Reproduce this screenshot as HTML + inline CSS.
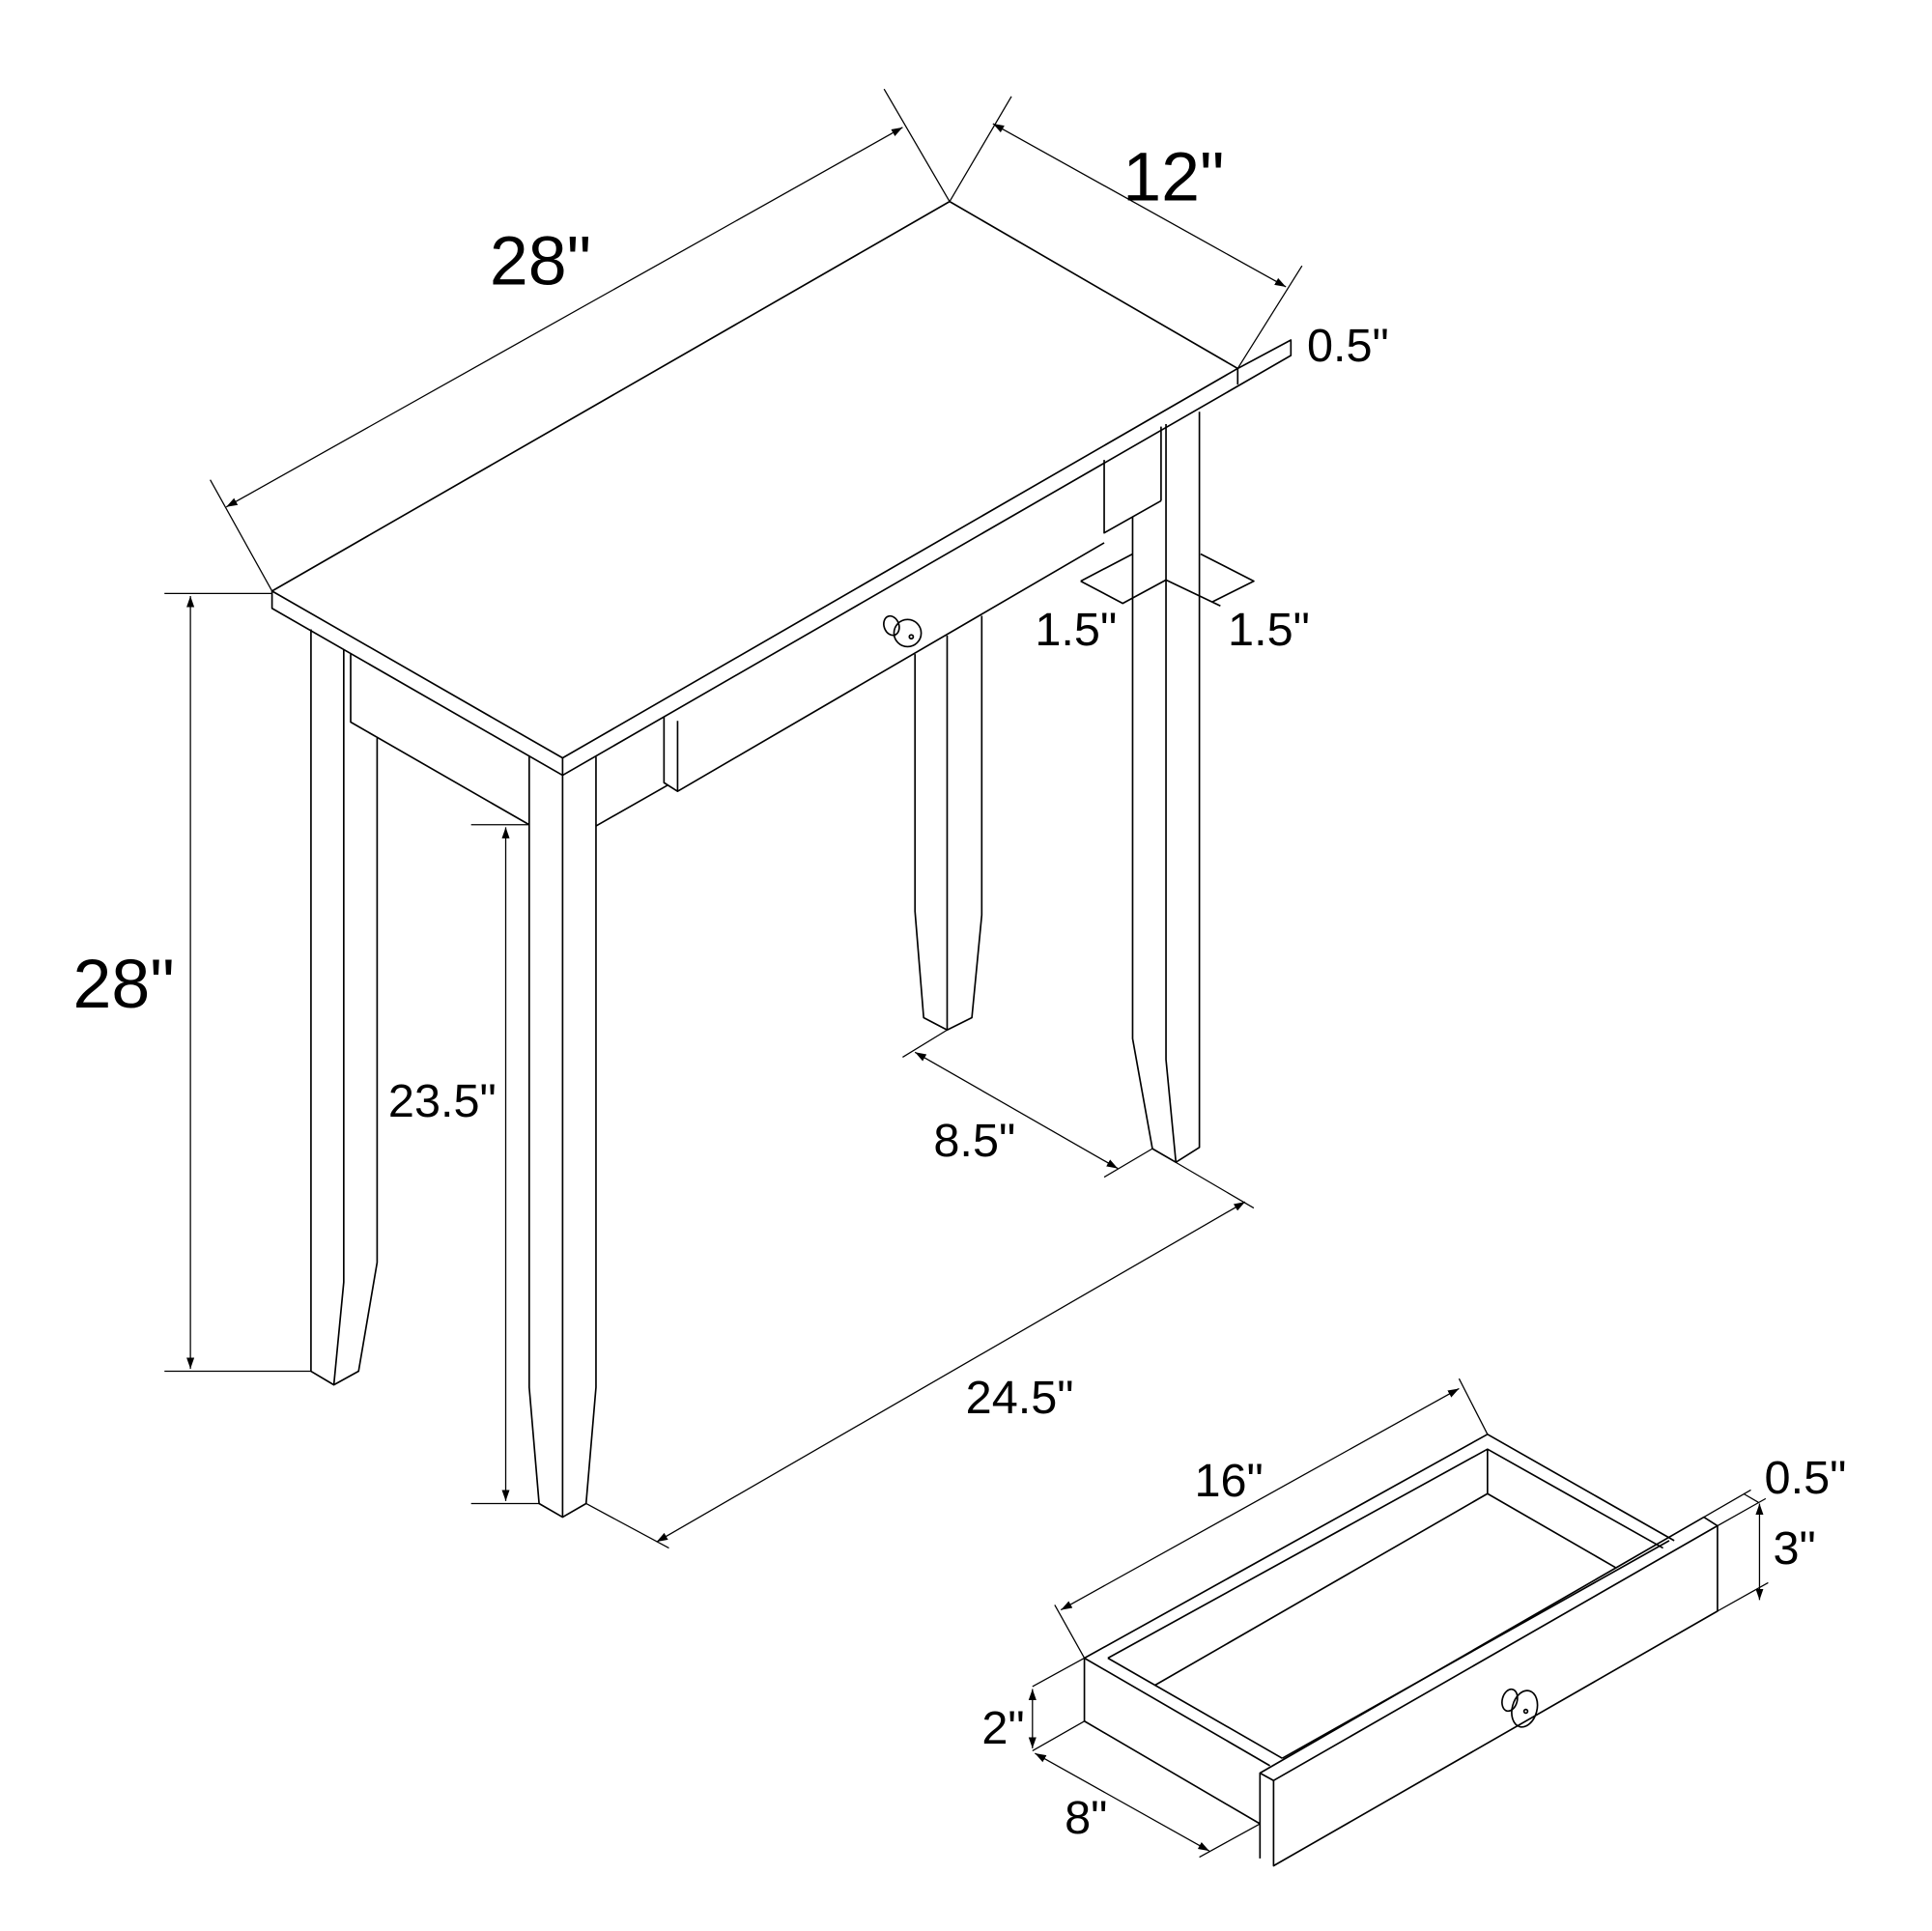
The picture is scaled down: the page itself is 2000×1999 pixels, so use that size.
<!DOCTYPE html>
<html><head><meta charset="utf-8"><style>
html,body{margin:0;padding:0;background:#fff;}
svg{display:block;}
text{font-family:"Liberation Sans",Arial,sans-serif;fill:#000;}
</style></head><body>
<svg width="2000" height="1999" viewBox="0 0 1562.5 1561.7" xmlns="http://www.w3.org/2000/svg">
<defs>
<marker id="a" viewBox="0 0 10 10" refX="10" refY="5" markerWidth="9" markerHeight="9" markerUnits="userSpaceOnUse" orient="auto-start-reverse"><path d="M0,1.5 L10,5 L0,8.5 Z" fill="#000"/></marker>
</defs>
<g fill="none" stroke="#000" stroke-width="1.3" stroke-linejoin="round">
<!-- table top -->
<path d="M220,478 L768,163 L1001,298 L455,613 Z"/>
<path d="M220,478 L220,492 L455,627 L1044,287.5 L1044,275 L1001,298"/>
<path d="M455,613 L455,627 M1001,298 L1001,311"/>
<!-- back-left leg -->
<path d="M251.5,509 L251.5,1109 L270,1120 L290,1109 L305,1021 L305,597"/>
<path d="M278,525 L278,1037 L270,1120"/>
<!-- left apron -->
<path d="M283.6,529 L283.6,584 L428,667"/>
<!-- front leg -->
<path d="M428,611 L428,1122 L436,1216 L455,1227 L474,1216 L482,1122 L482,612"/>
<path d="M455,627 L455,1227"/>
<!-- front apron + drawer -->
<path d="M482,668 L540,635"/>
<path d="M537,580 L537,633 L548,640 L893,439"/>
<path d="M548,583 L548,640"/>
<!-- right apron -->
<path d="M893,372 L893,431 L939,405"/>
<path d="M939,345 L939,405"/>
<!-- back-right leg -->
<path d="M740,529 L740,737 L747,823 L766,833 L786,823 L794,740 L794,498"/>
<path d="M766,514 L766,833"/>
<!-- front-right leg -->
<path d="M916,418 L916,840 L932,929 L951,940 L970,928 L970,333"/>
<path d="M943,343 L943,857 L951,940"/>
<!-- knob -->
<circle cx="734" cy="512" r="11"/>
<ellipse cx="721" cy="506" rx="6" ry="8" transform="rotate(-20 721 506)"/>
<circle cx="737" cy="515" r="1.6"/>
<!-- 1.5 marks -->
<path d="M874,470 L916,448 M874,470 L908,488 L943,469 L987,490 M980,487 L1014,470 L971,448"/>
</g>
<g fill="none" stroke="#000" stroke-width="1">
<path d="M170,388 L220,478 M715,72 L768,163"/>
<path d="M183,410 L730,103" marker-start="url(#a)" marker-end="url(#a)"/>
<path d="M768,163 L818,78 M1001,298 L1053,215"/>
<path d="M803,100 L1040,232" marker-start="url(#a)" marker-end="url(#a)"/>
<path d="M133,480 L220,480 M133,1109 L251.5,1109"/>
<path d="M154,482 L154,1107" marker-start="url(#a)" marker-end="url(#a)"/>
<path d="M381,667 L428,667 M381,1216 L436,1216"/>
<path d="M409,669 L409,1214" marker-start="url(#a)" marker-end="url(#a)"/>
<path d="M766,833 L730,855 M932,929 L893,952"/>
<path d="M740,851 L904,945" marker-start="url(#a)" marker-end="url(#a)"/>
<path d="M932,929 L1014,977 M474,1216 L541,1252"/>
<path d="M531,1247 L1007,972" marker-start="url(#a)" marker-end="url(#a)"/>
</g>
<!-- drawer -->
<g fill="none" stroke="#000" stroke-width="1.3" stroke-linejoin="round">
<path d="M877,1341 L1203,1160 L1354,1246"/>
<path d="M896,1341 L1203,1172 L1345,1252"/>
<path d="M1203,1172 L1203,1208 L1307,1268"/>
<path d="M1203,1208 L934,1363"/>
<path d="M877,1341 L877,1392 L1019,1475"/>
<path d="M877,1341 L1027,1428"/>
<path d="M896,1341 L1037,1422"/>
<path d="M1019,1434 L1378,1227 L1389,1234 L1030,1440 Z"/>
<path d="M1019,1434 L1019,1503 M1030,1440 L1030,1509 L1389,1303 L1389,1234"/>
<path d="M1037,1422 L1350,1246"/>
<ellipse cx="1233" cy="1382" rx="10" ry="15" transform="rotate(15 1233 1382)"/>
<ellipse cx="1221" cy="1375" rx="6" ry="9" transform="rotate(15 1221 1375)"/>
<circle cx="1234" cy="1384" r="1.5"/>
</g>
<g fill="none" stroke="#000" stroke-width="1">
<path d="M1203,1160 L1180,1115 M877,1341 L853,1298"/>
<path d="M858,1302 L1180,1123" marker-start="url(#a)" marker-end="url(#a)"/>
<path d="M1378,1227 L1416,1205 M1389,1234 L1428,1212 M1410,1208 L1422,1215"/>
<path d="M1389,1303 L1430,1280"/>
<path d="M1423,1216 L1423,1294" marker-start="url(#a)" marker-end="url(#a)"/>
<path d="M835,1364 L877,1341 M835,1416 L877,1392"/>
<path d="M835,1366 L835,1414" marker-start="url(#a)" marker-end="url(#a)"/>
<path d="M1019,1475 L970,1502"/>
<path d="M837,1418 L978,1497" marker-start="url(#a)" marker-end="url(#a)"/>
</g>
<g>
<text x="396" y="230" font-size="56">28"</text>
<text x="908" y="162" font-size="56">12"</text>
<text x="59" y="815" font-size="56">28"</text>
<text x="1057" y="292" font-size="38">0.5"</text>
<text x="837" y="522" font-size="38">1.5"</text>
<text x="993" y="522" font-size="38">1.5"</text>
<text x="314" y="903" font-size="38">23.5"</text>
<text x="755" y="935" font-size="38">8.5"</text>
<text x="781" y="1143" font-size="38">24.5"</text>
<text x="966" y="1210" font-size="38">16"</text>
<text x="1427" y="1208" font-size="38">0.5"</text>
<text x="1434" y="1265" font-size="38">3"</text>
<text x="794" y="1410" font-size="38">2"</text>
<text x="861" y="1483" font-size="38">8"</text>
</g>
</svg>
</body></html>
